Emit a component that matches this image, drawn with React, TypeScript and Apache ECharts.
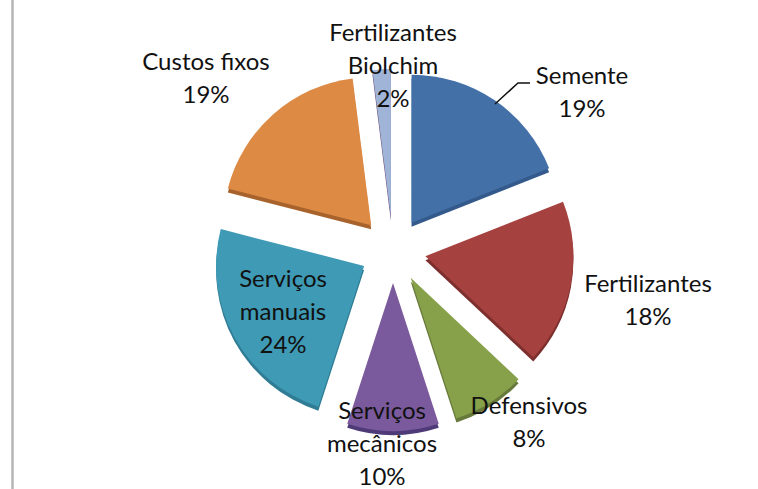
import React, { useEffect, useRef } from "react";
import * as echarts from "echarts";

const categories = ["Semente", "Fertilizantes", "Defensivos", "Serviços\nmecânicos", "Serviços\nmanuais", "Custos fixos", "Fertilizantes\nBiolchim"];
const values = [19, 18, 8, 10, 24, 19, 2];
const colors = ["#4470a8", "#a5413f", "#87a04a", "#7a5a9c", "#3f9ab5", "#dd8a45", "#a0b4d8"];
const sideColors = ["#345a8c", "#7c2f2d", "#66793a", "#4f3a78", "#2f7c94", "#a8632c", "#6a4a7a"];
const labelCenters = [
  [582, 91],
  [648, 299],
  [529, 421],
  [382, 442],
  [283, 310],
  [206, 77],
  [393, 64],
];

const CENTER = [393, 250];
const RADIUS = 148;
const OFFSET = 33;
const DEPTH = 4;

export default function App() {
  const ref = useRef<HTMLDivElement>(null);
  useEffect(() => {
    document.body.style.margin = "0";
    const chart = echarts.init(ref.current!, null, { renderer: "svg" });
    chart.setOption({
      animation: false,
      backgroundColor: "#ffffff",
      graphic: [
        { type: "line", shape: { x1: 12.5, y1: 0, x2: 12.5, y2: 489 }, style: { stroke: "#b4b4b4", lineWidth: 2.5 } },
        { type: "polyline", z: 100, shape: { points: [[495, 104], [518, 83], [530, 83]] }, style: { stroke: "#111111", lineWidth: 1.5, fill: "none" } },
        ...categories.map((c, i) => ({
          type: "text",
          z: 100,
          x: labelCenters[i][0],
          y: labelCenters[i][1],
          style: {
            text: `${c}\n${values[i]}%`,
            fill: "#111111",
            fontFamily: "Lato",
            fontSize: 24,
            lineHeight: 33,
            align: "center",
            verticalAlign: "middle",
          },
        })),
      ],
      series: [
        {
          type: "pie",
          z: 1,
          silent: true,
          center: [CENTER[0], CENTER[1] + DEPTH],
          radius: [0, RADIUS],
          startAngle: 90,
          selectedMode: "multiple",
          selectedOffset: OFFSET,
          label: { show: false },
          labelLine: { show: false },
          data: values.map((v, i) => ({ name: categories[i], value: v, selected: true, itemStyle: { color: sideColors[i] } })),
        },
        {
          type: "pie",
          z: 2,
          silent: true,
          center: CENTER,
          radius: [0, RADIUS],
          startAngle: 90,
          selectedMode: "multiple",
          selectedOffset: OFFSET,
          label: { show: false },
          labelLine: { show: false },
          data: values.map((v, i) => ({ name: categories[i], value: v, selected: true, itemStyle: { color: colors[i] } })),
        },
      ],
    });
    return () => chart.dispose();
  }, []);
  return <div ref={ref} style={{ width: 758, height: 489, position: "absolute", left: 0, top: 0 }} />;
}
